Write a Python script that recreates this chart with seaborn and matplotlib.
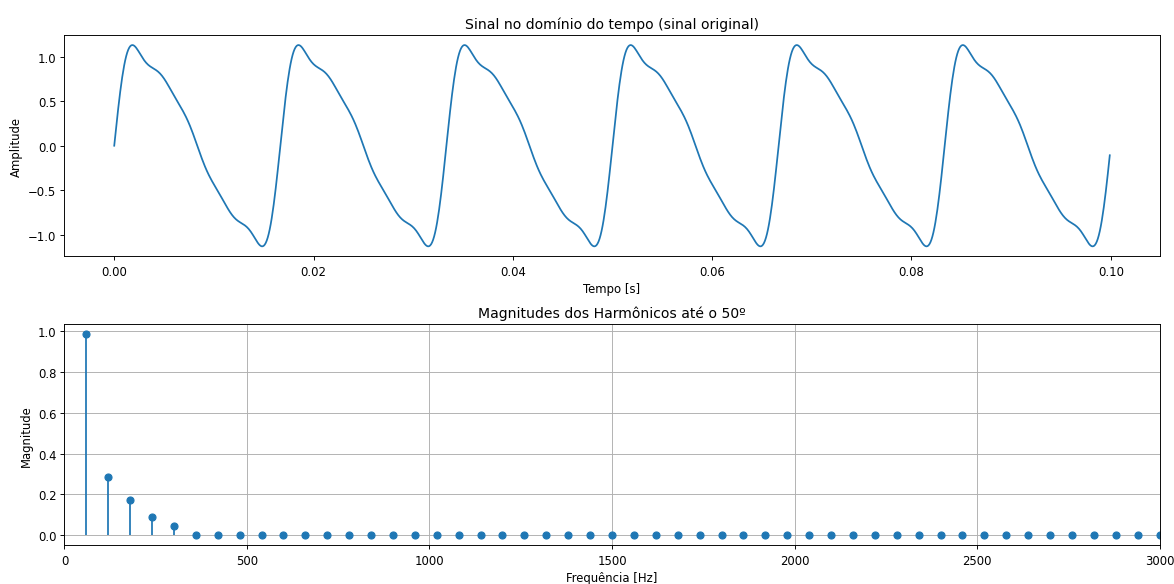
import numpy as np
import pandas as pd
import matplotlib
matplotlib.use("Agg")
import matplotlib.pyplot as plt
import seaborn as sns

# fundamental and the harmonic amplitudes used to build the signal
f0 = 60
fs = 10000
duracao = 0.1
ordens = [1, 2, 3, 4, 5]
amplitudes = [1.0, 0.3, 0.2, 0.1, 0.05]

# magnitudes (harmonics 1..50)
mag_harm = [0.985, 0.283, 0.175, 0.088, 0.047] + [0.0] * 45
freq_harm = [f0 * n for n in range(1, 51)]

# time signal from the harmonics
t = np.arange(0, duracao, 1 / fs)
sinal = np.zeros_like(t)
for n, a in zip(ordens, amplitudes):
    sinal += a * np.sin(2 * np.pi * n * f0 * t)

df = pd.DataFrame({"tempo": t, "amplitude": sinal})

# 14x7 figure drawn at a lower dpi so it comes out at 1174x585
fig, (ax1, ax2) = plt.subplots(2, 1, figsize=(14, 6.976), dpi=1174 / 14)

sns.lineplot(data=df, x="tempo", y="amplitude", ax=ax1, color="C0")
ax1.set_title("Sinal no domínio do tempo (sinal original)")
ax1.set_xlabel("Tempo [s]")
ax1.set_ylabel("Amplitude")

ax2.stem(freq_harm, mag_harm, basefmt=" ")
ax2.set_title("Magnitudes dos Harmônicos até o 50º")
ax2.set_xlabel("Frequência [Hz]")
ax2.set_ylabel("Magnitude")
ax2.set_xlim(0, 3000)
ax2.grid(True)

plt.subplots_adjust(left=0.0549, right=0.9877, top=0.9385, bottom=0.066, hspace=0.305)
plt.savefig("out.png")
